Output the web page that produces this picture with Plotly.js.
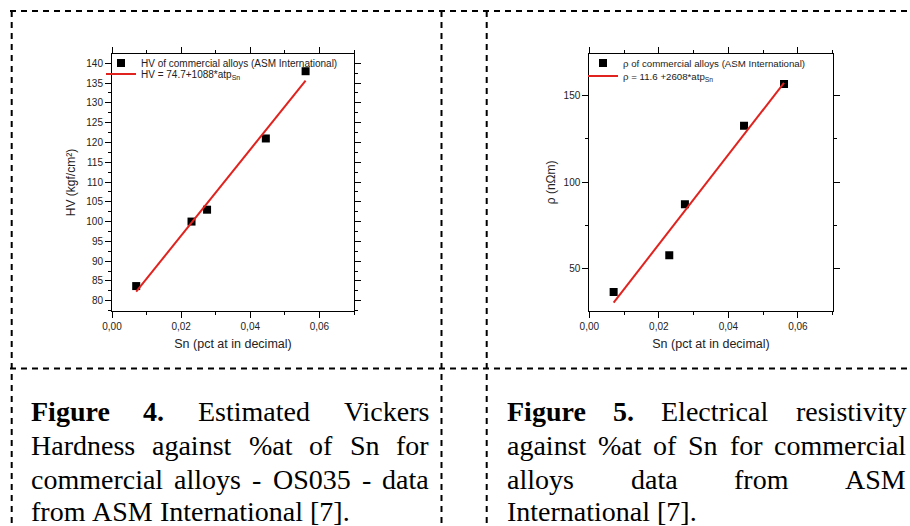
<!DOCTYPE html>
<html>
<head>
<meta charset="utf-8">
<script src="https://cdn.plot.ly/plotly-3.0.1.min.js"></script>
<style>html,body{margin:0;padding:0;background:#fff;}#chart{width:910px;height:526px;}</style>
</head>
<body>
<div id="chart"></div>
<script>
// ---- Data ----
const snHV = [0.007, 0.023, 0.0275, 0.0445, 0.056];
const hvValues = [83.7, 100, 103, 121, 138];
const hvFitX = [0.007, 0.056];
const hvFitY = [82.3, 135.6];

const snRho = [0.007, 0.023, 0.0275, 0.0445, 0.056];
const rhoValues = [36, 57.4, 87, 132.7, 157];
const rhoFitX = [0.007, 0.056];
const rhoFitY = [29.9, 157.6];

const xTickVals = [0, 0.02, 0.04, 0.06];
const hvTickVals = [80, 85, 90, 95, 100, 105, 110, 115, 120, 125, 130, 135, 140];
const rhoTickVals = [50, 100, 150];

const hvPointsName = 'HV of commercial alloys (ASM International)';
const hvFitName = 'HV = 74.7+1088*atp<sub>Sn</sub>';
const rhoPointsName = 'ρ of commercial alloys (ASM International)';
const rhoFitName = 'ρ = 11.6 +2608*atp<sub>Sn</sub>';
const xTitle = 'Sn (pct at in decimal)';
const hvTitle = 'HV (kgf/cm²)';
const rhoTitle = 'ρ (nΩm)';

const captionLeft = [
  [['Figure', 1], ['4.', 1], ['Estimated', 0], ['Vickers', 0]],
  [['Hardness', 0], ['against', 0], ['%at', 0], ['of', 0], ['Sn', 0], ['for', 0]],
  [['commercial', 0], ['alloys', 0], ['-', 0], ['OS035', 0], ['-', 0], ['data', 0]],
  [['from', 0], ['ASM', 0], ['International', 0], ['[7].', 0]]
];
const captionRight = [
  [['Figure', 1], ['5.', 1], ['Electrical', 0], ['resistivity', 0]],
  [['against', 0], ['%at', 0], ['of', 0], ['Sn', 0], ['for', 0], ['commercial', 0]],
  [['alloys', 0], ['data', 0], ['from', 0], ['ASM', 0]],
  [['International', 0], ['[7].', 0]]
];

// ---- Layout helpers ----
const W = 910, H = 526;
const px = v => v / W;
const py = v => 1 - v / H;

const red = '#e0231e';
const sansFont = 'Liberation Sans, Arial, sans-serif';
const serifFont = 'Liberation Serif, Times New Roman, serif';

const traces = [
  {x: snHV, y: hvValues, type: 'scatter', mode: 'markers', name: hvPointsName,
   marker: {symbol: 'square', size: 8, color: '#000'}, xaxis: 'x', yaxis: 'y', legend: 'legend'},
  {x: hvFitX, y: hvFitY, type: 'scatter', mode: 'lines', name: hvFitName,
   line: {color: red, width: 2}, xaxis: 'x', yaxis: 'y', legend: 'legend2'},
  {x: snRho, y: rhoValues, type: 'scatter', mode: 'markers', name: rhoPointsName,
   marker: {symbol: 'square', size: 8, color: '#000'}, xaxis: 'x2', yaxis: 'y2', legend: 'legend3'},
  {x: rhoFitX, y: rhoFitY, type: 'scatter', mode: 'lines', name: rhoFitName,
   line: {color: red, width: 2}, xaxis: 'x2', yaxis: 'y2', legend: 'legend4'}
];

function xAxis(domain, anchor) {
  return {
    domain: domain, anchor: anchor, range: [0, 0.07],
    tickvals: xTickVals, tickformat: '.2f',
    ticks: 'outside', ticklen: 6, tickwidth: 1, tickcolor: '#000',
    minor: {dtick: 0.01, tick0: 0, ticks: 'outside', ticklen: 3, tickcolor: '#000'},
    showline: true, linecolor: '#000', linewidth: 1, mirror: 'ticks',
    showgrid: false, zeroline: false,
    tickfont: {family: sansFont, size: 10, color: '#222'},
    title: {text: xTitle, font: {family: sansFont, size: 12.5, color: '#222'}, standoff: 8}
  };
}
function yAxis(domain, anchor, range, tickvals, minorDtick, title, standoff) {
  return {
    domain: domain, anchor: anchor, range: range,
    tickvals: tickvals,
    ticks: 'outside', ticklen: 6, tickwidth: 1, tickcolor: '#000',
    minor: {dtick: minorDtick, tick0: 0, ticks: 'outside', ticklen: 3, tickcolor: '#000'},
    showline: true, linecolor: '#000', linewidth: 1, mirror: 'ticks',
    showgrid: false, zeroline: false,
    tickfont: {family: sansFont, size: 10, color: '#222'},
    title: {text: title, font: {family: sansFont, size: 12, color: '#222'}, standoff: standoff}
  };
}

function legendAt(xPix, yPix, size) {
  return {x: px(xPix), y: py(yPix), xanchor: 'left', yanchor: 'middle',
    bgcolor: 'rgba(0,0,0,0)', borderwidth: 0, itemwidth: 30,
    font: {family: sansFont, size: size, color: '#222'}};
}

// dashed frame
const dash = {color: '#000', width: 2, dash: '6px,5px'};
const shapes = [
  {type: 'line', xref: 'paper', yref: 'paper', x0: px(10), x1: px(910), y0: py(11), y1: py(11), line: dash},
  {type: 'line', xref: 'paper', yref: 'paper', x0: px(10), x1: px(910), y0: py(368.5), y1: py(368.5), line: dash},
  {type: 'line', xref: 'paper', yref: 'paper', x0: px(11.7), x1: px(11.7), y0: py(11), y1: py(526), line: dash},
  {type: 'line', xref: 'paper', yref: 'paper', x0: px(441.5), x1: px(441.5), y0: py(11), y1: py(526), line: dash},
  {type: 'line', xref: 'paper', yref: 'paper', x0: px(486.7), x1: px(486.7), y0: py(11), y1: py(526), line: dash}
];

// justified captions
const capSize = 28;
const cvs = document.createElement('canvas');
const ctx = cvs.getContext('2d');
function measure(word, bold) {
  ctx.font = (bold ? 'bold ' : '') + capSize + 'px "Liberation Serif", "Times New Roman", serif';
  return ctx.measureText(word).width;
}
const annotations = [];
function addCaption(lines, left, right, yStarts) {
  lines.forEach((words, i) => {
    const yc = yStarts[i];
    const widths = words.map(w => measure(w[0], w[1]));
    const total = widths.reduce((a, b) => a + b, 0);
    const last = i === lines.length - 1;
    const space = measure(' ', 0);
    const gap = (!last && words.length > 1) ? (right - left - total) / (words.length - 1) : space;
    let x = left;
    words.forEach((w, j) => {
      annotations.push({
        xref: 'paper', yref: 'paper', x: px(x - 1), y: py(yc),
        xanchor: 'left', yanchor: 'middle', showarrow: false,
        text: w[1] ? '<b>' + w[0] + '</b>' : w[0],
        font: {family: serifFont, size: capSize, color: '#000'}
      });
      x += widths[j] + gap;
    });
  });
}
const captionRows = [411, 445, 479, 511];
addCaption(captionLeft, 30, 428, captionRows);
addCaption(captionRight, 506, 905, captionRows);

const layout = {
  width: W, height: H,
  margin: {l: 0, r: 0, t: 0, b: 0},
  paper_bgcolor: '#fff', plot_bgcolor: '#fff',
  separators: ', ',
  showlegend: true,
  xaxis: xAxis([px(112), px(354)], 'y'),
  yaxis: yAxis([py(311), py(54)], 'x', [77.4, 142.35], hvTickVals, 2.5, hvTitle, 8),
  xaxis2: xAxis([px(589.3), px(832.7)], 'y2'),
  yaxis2: yAxis([py(310.7), py(54)], 'x2', [25.2, 174.4], rhoTickVals, 25, rhoTitle, 5),
  legend: legendAt(101, 63, 10),
  legend2: legendAt(101, 74, 10),
  legend3: legendAt(583, 63, 9.7),
  legend4: legendAt(583, 76, 9.7),
  shapes: shapes,
  annotations: annotations
};

Plotly.newPlot('chart', traces, layout, {displayModeBar: false, staticPlot: true});
</script>
</body>
</html>
